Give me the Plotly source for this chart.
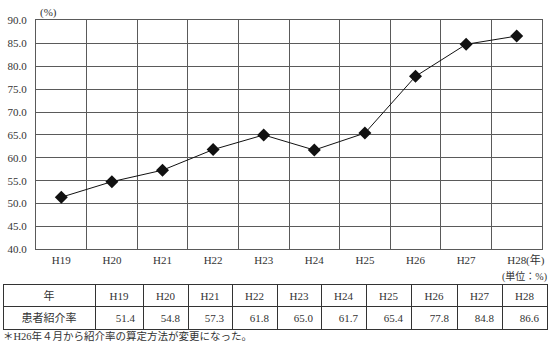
import plotly.graph_objects as go

years = ["H19", "H20", "H21", "H22", "H23", "H24", "H25", "H26", "H27", "H28"]
rates = [51.4, 54.8, 57.3, 61.8, 65.0, 61.7, 65.4, 77.8, 84.8, 86.6]
row_header = "年"
row_label = "患者紹介率"
y_ticks = [40, 45, 50, 55, 60, 65, 70, 75, 80, 85, 90]

W, H = 550, 352
FONT = "'Liberation Serif', 'DejaVu Serif', 'Noto Sans CJK JP', serif"
TXT = "#333333"
GRID = "#5a5a5a"

fig = go.Figure()
fig.add_trace(go.Scatter(
    x=years, y=rates, mode="lines+markers",
    line=dict(color="#111111", width=1),
    marker=dict(symbol="diamond", size=10, color="#111111"),
    showlegend=False,
))

fig.add_trace(go.Table(
    domain=dict(x=[3 / W, 547 / W], y=[0.01, 1 - 288 / H]),
    columnwidth=[92, 48, 45, 44, 45, 44, 45, 45, 46, 45, 45],
    header=dict(
        values=[row_header] + years,
        align="center",
        height=22,
        fill_color="white",
        line=dict(color="#333333", width=1),
        font=dict(family=FONT, size=11, color=TXT),
    ),
    cells=dict(
        values=[[row_label]] + [[f"{v:.1f}"] for v in rates],
        align=["center"] + ["right"] * len(rates),
        height=23,
        fill_color="white",
        line=dict(color="#333333", width=1),
        font=dict(family=FONT, size=11, color=TXT),
    ),
))

fig.update_layout(
    width=W, height=H,
    margin=dict(l=0, r=0, t=0, b=0),
    paper_bgcolor="white", plot_bgcolor="white",
    font=dict(family=FONT, size=11, color=TXT),
    xaxis=dict(
        domain=[36 / W, 542 / W],
        type="category", tickson="boundaries",
        range=[-0.5, len(years) - 0.5],
        showgrid=True, gridcolor=GRID, gridwidth=1.3,
        showline=True, linecolor=GRID, linewidth=1.3, mirror=True,
        ticks="outside", ticklen=5, tickcolor="rgba(0,0,0,0)",
        tickfont=dict(family=FONT, size=11, color=TXT),
        zeroline=False,
    ),
    yaxis=dict(
        domain=[1 - 252 / H, 1 - 15 / H],
        range=[40, 90], tickvals=y_ticks, tickformat=".1f",
        showgrid=True, gridcolor=GRID, gridwidth=1.3,
        showline=True, linecolor=GRID, linewidth=1.3, mirror=True,
        ticks="outside", ticklen=6, tickcolor="rgba(0,0,0,0)",
        tickfont=dict(family=FONT, size=11, color=TXT),
        zeroline=False,
    ),
)

fig.add_annotation(text="(%)", xref="paper", yref="paper", x=38 / W, y=1 - 7 / H,
                   xanchor="left", yanchor="middle", showarrow=False,
                   font=dict(family=FONT, size=11, color=TXT))
fig.add_annotation(text="(年)", xref="paper", yref="paper", x=524 / W, y=1 - 263 / H,
                   xanchor="left", yanchor="middle", showarrow=False,
                   font=dict(family=FONT, size=11, color=TXT))
fig.add_annotation(text="(単位：%)", xref="paper", yref="paper", x=549 / W, y=1 - 280 / H,
                   xanchor="right", yanchor="middle", showarrow=False,
                   font=dict(family=FONT, size=10, color=TXT))
fig.add_annotation(text="＊H26年４月から紹介率の算定方法が変更になった。", xref="paper", yref="paper",
                   x=1 / W, y=1 - 342 / H, xanchor="left", yanchor="middle", showarrow=False,
                   font=dict(family=FONT, size=10.5, color=TXT))

fig.write_html("out.html")
